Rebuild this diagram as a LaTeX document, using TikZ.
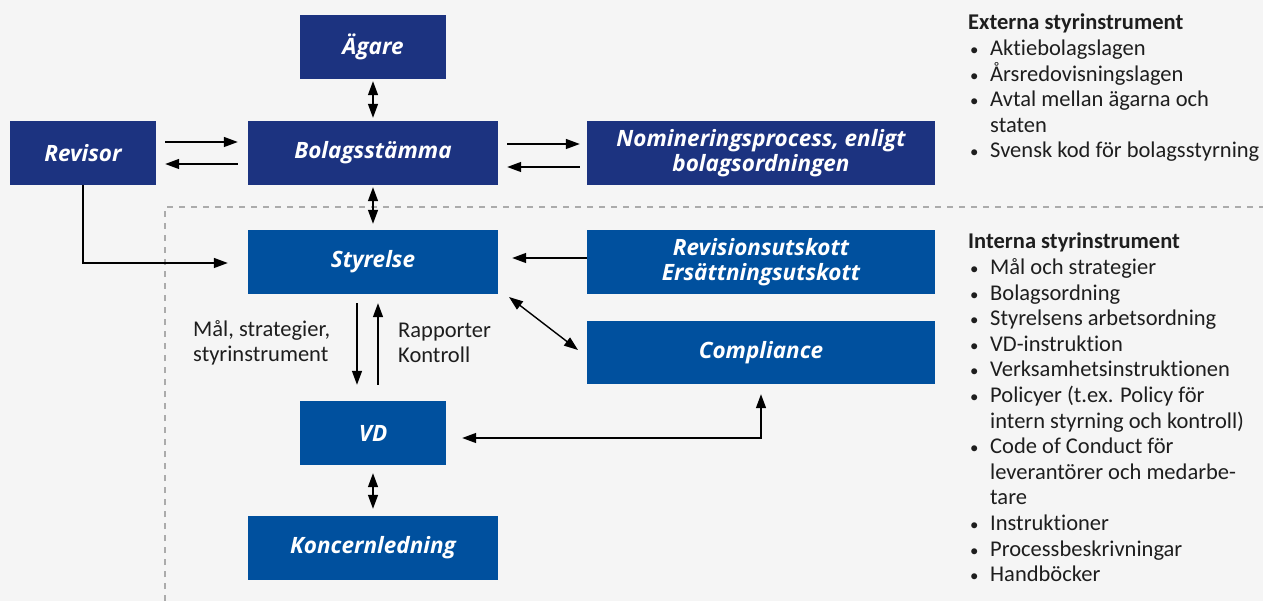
\documentclass[tikz,border=0pt]{standalone}
\usepackage{fontspec}
\setmainfont{Carlito}[Ligatures={NoCommon}]
\newfontfamily\boxfont{Open Sans}
\usetikzlibrary{arrows.meta,calc}
\definecolor{navy}{HTML}{1C3380}
\definecolor{midblue}{HTML}{00509E}
\definecolor{bgc}{HTML}{F5F5F5}
\definecolor{txt}{HTML}{1E1E1E}
\definecolor{dashc}{HTML}{ABABAB}
\newcommand{\bul}{\makebox[22pt][l]{\hspace{2pt}\scalebox{0.75}{•}}}
\begin{document}
\begin{tikzpicture}[x=1pt,y=-1pt,
  boxbase/.style={rectangle,inner sep=0pt,text=white,align=center,
    font=\boxfont\bfseries\itshape\fontsize{22.5}{25}\selectfont},
  darkbox/.style={boxbase,fill=navy},
  bluebox/.style={boxbase,fill=midblue},
  conn/.style={line width=1.4pt,draw=black},
  tipr/.style={-{Triangle[length=14pt,width=10pt]}},
  tipb/.style={{Triangle[length=14pt,width=10pt]}-{Triangle[length=14pt,width=10pt]}},
  lbl/.style={inner sep=0pt,align=left,text=txt,font=\fontsize{22.5}{25}\selectfont},
  listnode/.style={inner sep=0pt,align=left,text=txt,font=\fontsize{22.5}{25.6}\selectfont}]
\fill[bgc] (0,0) rectangle (1263,601);
\useasboundingbox (0,0) rectangle (1263,601);

% dashed separator
\coordinate (d1) at (165,601);
\coordinate (d2) at (165,207);
\coordinate (d3) at (1263,207);
\draw[dashc,line width=1.2pt,dash pattern=on 6pt off 6pt] (d1) -- (d2) -- (d3);

% boxes
\node[darkbox,minimum width=146pt,minimum height=64pt] (ag) at (373,47) {Ägare};
\node[darkbox,minimum width=146pt,minimum height=64pt] (rev) at (83,153) {Revisor};
\node[darkbox,minimum width=250pt,minimum height=64pt] (bo) at (373,153) {Bolagsstämma};
\node[darkbox,minimum width=348pt,minimum height=64pt] (nom) at (761,153) {Nomineringsprocess, enligt\\bolagsordningen};
\node[bluebox,minimum width=250pt,minimum height=64pt] (sty) at (373,262) {Styrelse};
\node[bluebox,minimum width=348pt,minimum height=64pt] (ru) at (761,262) {Revisionsutskott\\Ersättningsutskott};
\node[bluebox,minimum width=348pt,minimum height=63pt] (co) at (761,352.5) {Compliance};
\node[bluebox,minimum width=146pt,minimum height=64pt] (vd) at (373,433) {VD};
\node[bluebox,minimum width=250pt,minimum height=64pt] (ko) at (373,548) {Koncernledning};

% connectors
\draw[conn,tipb,shorten <=2pt,shorten >=3pt] (ag.south) -- (bo.north);
\draw[conn,tipr,shorten <=9pt,shorten >=10pt] ([yshift=11pt]rev.east) -- ([yshift=11pt]bo.west);
\draw[conn,tipr,shorten <=10pt,shorten >=9pt] ([yshift=-11pt]bo.west) -- ([yshift=-11pt]rev.east);
\draw[conn,tipr,shorten <=9pt,shorten >=7pt] ([yshift=9pt]bo.east) -- ([yshift=9pt]nom.west);
\draw[conn,tipr,shorten <=7pt,shorten >=9pt] ([yshift=-14pt]nom.west) -- ([yshift=-14pt]bo.east);
\draw[conn,tipb,shorten <=2pt,shorten >=6pt] (bo.south) -- (sty.north);
\draw[conn,tipr,shorten >=20pt] (rev.south) |- ([yshift=-1pt]sty.west);
\draw[conn,tipr,shorten >=14pt] ([yshift=4pt]ru.west) -- ([yshift=4pt]sty.east);
\coordinate (sc1) at (509,297);
\coordinate (sc2) at (578,350);
\draw[conn,tipb] (sc1) -- (sc2);
\draw[conn,tipr,shorten <=9pt,shorten >=16pt] ([xshift=-16pt]sty.south) -- ([xshift=-16pt]vd.north);
\draw[conn,tipr,shorten <=16pt,shorten >=9pt] ([xshift=5pt]vd.north) -- ([xshift=5pt]sty.south);
\draw[conn,tipb,shorten <=16pt,shorten >=10pt] ([yshift=-5pt]vd.east) -| (co.south);
\draw[conn,tipb,shorten <=8pt,shorten >=7pt] (vd.south) -- (ko.north);

% labels
\node[lbl,anchor=west] (l1) at (193,343) {Mål, strategier,\\styrinstrument};
\node[lbl,anchor=west] (l2) at (398,343) {Rapporter\\Kontroll};

% lists
\node[listnode,anchor=north west] (ext) at (968,14) {%
{\bfseries Externa styrinstrument}\\
\bul Aktiebolagslagen\\
\bul Årsredovisningslagen\\
\bul Avtal mellan ägarna och\\
\hspace*{22pt}staten\\
\bul Svensk kod för bolagsstyrning};
\node[listnode,anchor=north west] (int) at (968,233) {%
{\bfseries Interna styrinstrument}\\
\bul Mål och strategier\\
\bul Bolagsordning\\
\bul Styrelsens arbetsordning\\
\bul VD-instruktion\\
\bul Verksamhetsinstruktionen\\
\bul Policyer (t.ex. Policy för\\
\hspace*{22pt}intern styrning och kontroll)\\
\bul Code of Conduct för\\
\hspace*{22pt}leverantörer och medarbe-\\
\hspace*{22pt}tare\\
\bul Instruktioner\\
\bul Processbeskrivningar\\
\bul Handböcker};
\end{tikzpicture}
\end{document}
